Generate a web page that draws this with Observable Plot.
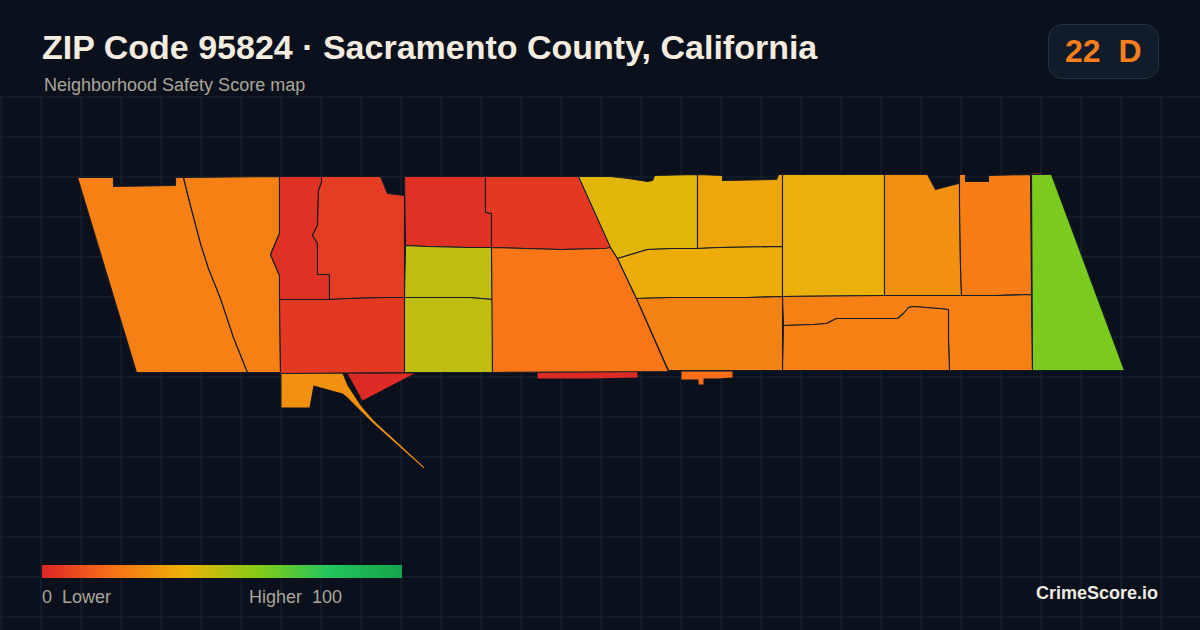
<!DOCTYPE html>
<html>
<head>
<meta charset="utf-8">
<script src="https://cdn.jsdelivr.net/npm/d3@7"></script>
<script src="https://cdn.jsdelivr.net/npm/@observablehq/plot@0.6"></script>
<style>
  html,body{margin:0;padding:0;background:#0a111c;width:1200px;height:630px;overflow:hidden;font-family:"Liberation Sans",Arial,sans-serif}
  #chart{position:absolute;left:0;top:0}
  .t{position:absolute;white-space:pre}
  #title{left:42px;top:27px;font-size:34px;line-height:40px;font-weight:700;color:#f5ece0}
  #subtitle{left:44px;top:75px;font-size:18px;line-height:20px;color:#aca59b}
  #badge{position:absolute;left:1048px;top:24px;width:109px;height:53px;border:1px solid #253140;border-radius:14px;background:#111c2a}
  #badgeText{left:1065px;top:33px;font-size:32px;line-height:36px;font-weight:700;color:#f97e1c}
  #bar{position:absolute;left:42px;top:565px;width:360px;height:13px}
  #lo{left:42px;top:587px;font-size:18px;line-height:20px;color:#aca59b}
  #hi{left:249px;top:587px;font-size:18px;line-height:20px;color:#aca59b}
  #brand{right:42px;top:583px;font-size:18px;line-height:20px;font-weight:700;color:#f0ebe3}
</style>
</head>
<body>
<div id="chart"></div>
<div class="t" id="title"></div>
<div class="t" id="subtitle"></div>
<div id="badge"></div>
<div class="t" id="badgeText"></div>
<div id="bar"></div>
<div class="t" id="lo"></div>
<div class="t" id="hi"></div>
<div class="t" id="brand"></div>
<script>
const titleText = "ZIP Code 95824 · Sacramento County, California";
const subtitleText = "Neighborhood Safety Score map";
const badgeLabel = "22  D";
const legendLow = "0  Lower";
const legendHigh = "Higher  100";
const brandText = "CrimeScore.io";

const scoreStops = [0, 20, 40, 60, 80, 100];
const scoreColors = ["#dc2626", "#f97316", "#eab308", "#84cc16", "#22c55e", "#16a34a"];

const gridX = d3.range(0, 1201, 40);
const gridY = [96, 136, 176, 216, 256, 296, 336, 376, 416, 456, 496, 536, 576, 616];

const tractScores = [24, 24, 3, 6, 5, 3, 5, 48, 48, 21, 42, 36, 38, 39, 29, 23, 25, 24, 24, 62];
const tractRings = [
  [[77,177],[113,177],[113,186],[175,185],[175,177],[183,177],[190,205],[200,243],[208,268],[220,298],[233,337],[237,347],[247,372],[136,372]],
  [[183,177],[279,176],[279,233],[270,254],[279,275],[280,372],[247,372],[237,347],[233,337],[220,298],[208,268],[200,243],[190,205]],
  [[279,176],[321,176],[321,182],[318,190],[317,225],[312,235],[317,243],[317,274],[329,274],[329,299],[279,299],[279,275],[270,254],[279,233]],
  [[321,176],[380,176],[387,193],[404,195],[404,297],[386,297],[348,298],[329,299],[329,274],[317,274],[317,243],[312,235],[317,225],[318,190],[321,182]],
  [[279,299],[329,299],[348,298],[386,297],[404,297],[404,372],[280,373]],
  [[404,176],[485,176],[485,203],[485,212],[491,213],[491,247],[469,247],[426,246],[405,245]],
  [[485,176],[579,176],[611,248],[604,248],[560,249],[491,247],[491,213],[485,212],[485,203]],
  [[405,245],[426,246],[469,247],[491,247],[492,299],[469,297],[404,297]],
  [[404,297],[469,297],[492,299],[492,372],[404,372]],
  [[491,247],[560,249],[604,248],[610,247],[617,258],[636,298],[668,371],[492,372]],
  [[578,176],[610,176],[628,178],[647,181],[652,180],[654,175],[697,174],[697,248],[673,248],[647,249],[617,258],[610,247]],
  [[697,174],[722,175],[722,180],[776,179],[778,174],[782,174],[782,246],[719,247],[697,248]],
  [[617,258],[647,249],[673,248],[697,248],[719,247],[782,246],[782,296],[747,297],[672,297],[636,298]],
  [[782,174],[884,174],[884,295],[782,296]],
  [[884,174],[927,174],[935,189],[958,183],[959,174],[959,203],[960,265],[961,295],[884,295]],
  [[959,174],[965,174],[965,181],[988,181],[988,175],[1030,174],[1031,294],[996,295],[961,295],[960,265],[959,203]],
  [[636,298],[672,297],[747,297],[782,296],[782,370],[668,370]],
  [[782,296],[884,295],[961,295],[996,295],[1031,294],[1032,370],[949,370],[948,340],[948,309],[938,308],[913,306],[908,307],[903,313],[897,318],[836,318],[826,323],[813,324],[783,325]],
  [[783,325],[813,324],[826,323],[836,318],[897,318],[903,313],[908,307],[913,306],[938,308],[948,309],[948,340],[949,370],[782,370]],
  [[1031,174],[1051,174],[1124,370],[1032,370]]
];

const fragmentScores = [29, 1, 1, 19, 1];
const fragmentRings = [
  [[281,373],[342,373],[347,385],[360,405],[373,420],[424,467],[423,467.6],[372,422],[346,396],[342,393],[313,385],[309,407],[281,407]],
  [[347,373],[414,373],[362,400]],
  [[537,372],[637,371],[637,377],[588,378],[537,378]],
  [[681,371],[732,371],[732,377],[718,378],[703,378],[703,384],[698,384],[698,379],[681,379]],
  [[1031,173],[1041,173],[1041,174],[1031,174]]
];

const toVertices = (rings, scores) => rings.flatMap((ring, id) =>
  ring.map(([x, y]) => ({id, x, y, score: scores[id]})));

const plot = Plot.plot({
  width: 1200, height: 630,
  margin: 0,
  style: {background: "#0a111c"},
  x: {domain: [0, 1200], range: [0, 1200], axis: null},
  y: {domain: [0, 630], range: [0, 630], axis: null},
  color: {type: "linear", domain: scoreStops, range: scoreColors},
  marks: [
    Plot.ruleX(gridX, {x: d => d + 0.5, y1: 96, y2: 630, stroke: "#182532", strokeWidth: 1}),
    Plot.ruleY(gridY, {y: d => d + 0.5, x1: 0, x2: 1200, stroke: "#182532", strokeWidth: 1}),
    Plot.line(toVertices(fragmentRings, fragmentScores), {
      x: "x", y: "y", z: "id", fill: "score", curve: "linear-closed", stroke: "none"
    }),
    Plot.line(toVertices(tractRings, tractScores), {
      x: "x", y: "y", z: "id", fill: "score",
      curve: "linear-closed",
      stroke: "#161c28", strokeWidth: 1.1, strokeLinejoin: "miter"
    })
  ]
});
document.getElementById("chart").appendChild(plot);

document.getElementById("title").textContent = titleText;
document.getElementById("subtitle").textContent = subtitleText;
document.getElementById("badgeText").textContent = badgeLabel;
document.getElementById("lo").textContent = legendLow;
document.getElementById("hi").textContent = legendHigh;
document.getElementById("brand").textContent = brandText;
document.getElementById("bar").style.background =
  "linear-gradient(to right," + scoreColors.map((c, i) => c + " " + scoreStops[i] + "%").join(",") + ")";
</script>
</body>
</html>
